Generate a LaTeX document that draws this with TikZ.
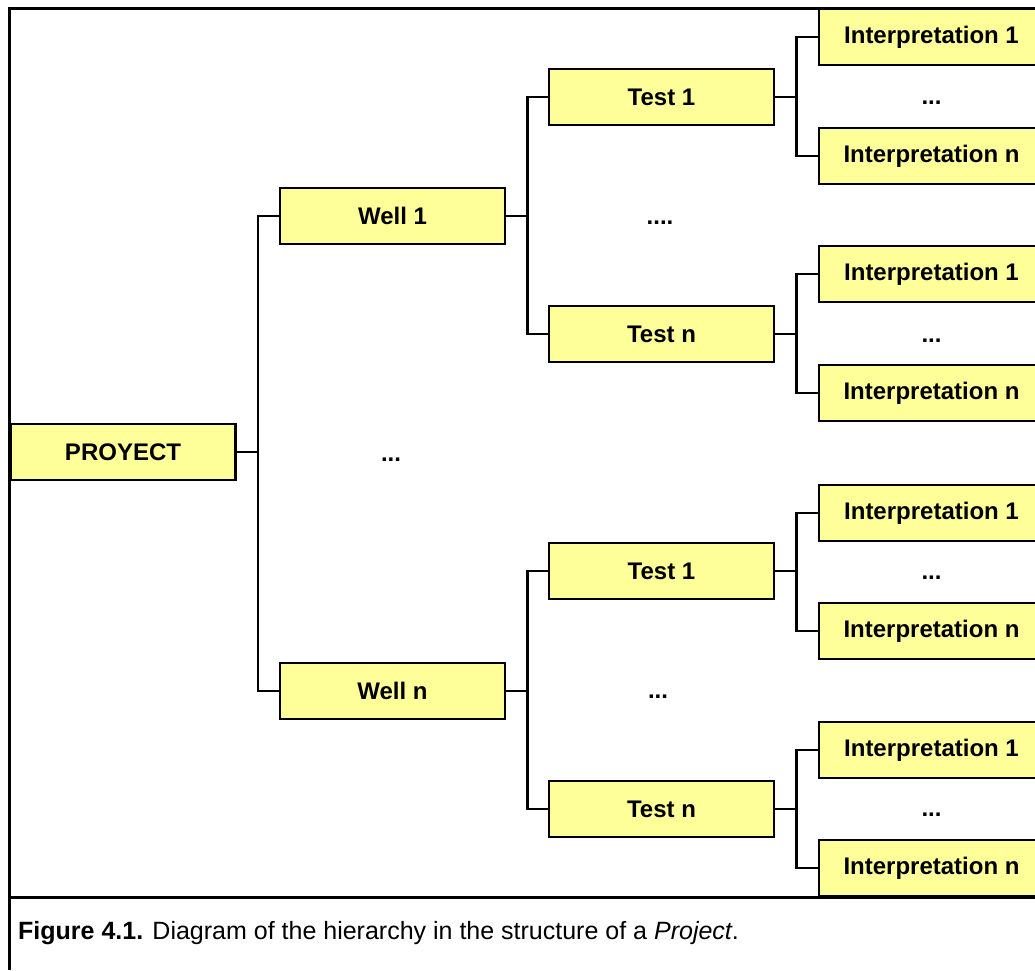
\documentclass[tikz,border=0pt]{standalone}
\usepackage{fontspec}
\setmainfont{Liberation Sans}
\definecolor{boxyellow}{HTML}{FFFF99}
\begin{document}
\begin{tikzpicture}[x=1pt,y=-1pt,
  box/.style={draw=black, fill=boxyellow, line width=2.6pt, rectangle,
    minimum width=225pt, minimum height=56pt, inner sep=0pt,
    font=\fontsize{24}{28}\selectfont\bfseries},
  conn/.style={draw=black, line width=2.4pt},
  dots/.style={font=\fontsize{24}{28}\selectfont\bfseries, inner sep=0pt},
  frame/.style={draw=black, line width=3pt}]
\useasboundingbox (0,0) rectangle (1035,970);
\clip (0,0) rectangle (1035,970);
\fill[white] (0,0) rectangle (1035,970);
% frame
\draw[frame] (9,970) -- (9,8) -- (1040,8);
\draw[frame] (9,897) -- (1040,897);
% nodes
\node[box] (proj) at (123,452) {PROYECT};
\node[box] (w1) at (392.5,216) {Well 1};
\node[box] (wn) at (392.5,691) {Well n};
\node[box] (t11) at (661.5,97) {Test 1};
\node[box] (t1n) at (661.5,334) {Test n};
\node[box] (tn1) at (661.5,571) {Test 1};
\node[box] (tnn) at (661.5,809) {Test n};
\node[box] (i111) at (931.5,37) {Interpretation 1};
\node[box] (i11n) at (931.5,156) {Interpretation n};
\node[box] (i1n1) at (931.5,274) {Interpretation 1};
\node[box] (i1nn) at (931.5,393) {Interpretation n};
\node[box] (in11) at (931.5,513) {Interpretation 1};
\node[box] (in1n) at (931.5,631) {Interpretation n};
\node[box] (inn1) at (931.5,750) {Interpretation 1};
\node[box] (innn) at (931.5,868) {Interpretation n};
% dots
\node[dots] (d0) at (391,460) {...};
\node[dots] (d1) at (660,223) {....};
\node[dots] (d2) at (658,697) {...};
\node[dots] (e1) at (931.5,103) {...};
\node[dots] (e2) at (931.5,341) {...};
\node[dots] (e3) at (931.5,578) {...};
\node[dots] (e4) at (931.5,815) {...};
% connectors
\draw[conn] (proj.east) -- ++(21,0) |- (w1.west);
\draw[conn] (proj.east) -- ++(21,0) |- (wn.west);
\foreach \p/\a/\b in {w1/t11/t1n, wn/tn1/tnn, t11/i111/i11n, t1n/i1n1/i1nn, tn1/in11/in1n, tnn/inn1/innn}{
  \draw[conn] (\p.east) -- ++(21,0) |- (\a.west);
  \draw[conn] (\p.east) -- ++(21,0) |- (\b.west);
}
% caption
\node[anchor=west, inner sep=0pt, font=\fontsize{25}{29}\selectfont] (cap) at (18,933)
  {\textbf{Figure 4.1.} Diagram of the hierarchy in the structure of a \textit{Project}.};
\end{tikzpicture}
\end{document}
